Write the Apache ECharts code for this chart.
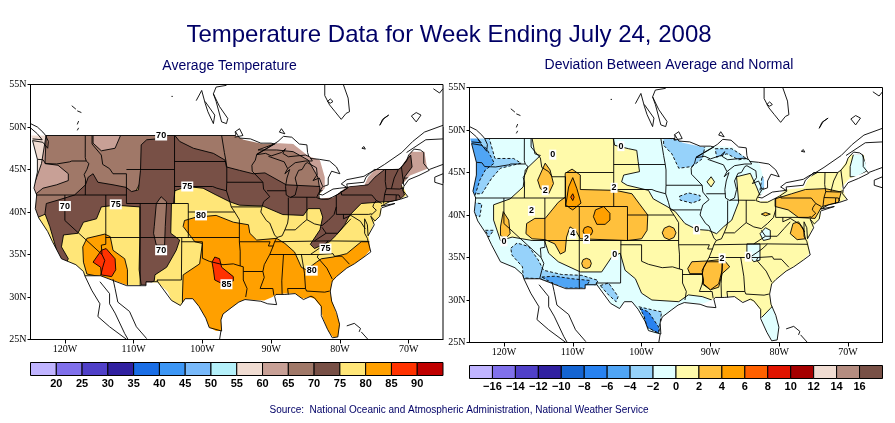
<!DOCTYPE html>
<html lang="en">
<head>
	<meta charset="UTF-8">
	<title>Temperature Data for Week Ending July 24, 2008</title>
	<style>html,body{margin:0;padding:0;background:#fff}</style>
</head>
<body>
	<div id="main" style="width: 895px;height: 423px"></div>

	<script src="https://cdn.jsdelivr.net/npm/echarts@6/dist/echarts.min.js"></script>
	<script type="text/javascript">

	// tick labels
	var lonTicks = [-120, -110, -100, -90, -80, -70];
	var latTicks = [25, 30, 35, 40, 45, 50, 55];

	// colour bars
	var tempLevels = [15, 20, 25, 30, 35, 40, 45, 50, 55, 60, 65, 70, 75, 80, 85, 90, 95];
	var tempTicks = [20, 25, 30, 35, 40, 45, 50, 55, 60, 65, 70, 75, 80, 85, 90];
	var tempColors = ['#C0B4FF', '#8070EB', '#5040C8', '#3020A0', '#1A6EE6', '#3C96F5', '#78B9FA', '#B4F0FA', '#F0DCD2', '#C8A096', '#A07868', '#785046', '#FFE678', '#FFA000', '#FF3200', '#C00000'];
	var devLevels = [-18, -16, -14, -12, -10, -8, -6, -4, -2, 0, 2, 4, 6, 8, 10, 12, 14, 16, 18];
	var devTicks = [-16, -14, -12, -10, -8, -6, -4, -2, 0, 2, 4, 6, 8, 10, 12, 14, 16];
	var devColors = ['#C0B4FF', '#8070EB', '#5040C8', '#3020A0', '#1464D2', '#2882F0', '#50A5F5', '#96D2FA', '#E1FFFF', '#FFFAAA', '#FFC03C', '#FFA000', '#FF6000', '#E11400', '#A50000', '#F0DCD2', '#B48C80', '#785046'];

	// area that carries gridded data, [lon, lat]
	var landMask = [[-124.9,49],[-95.2,49],[-94,48.5],[-91.2,48],[-88.7,48.1],[-86.8,48],[-84.6,46.6],[-82.9,46.1],[-82.2,44.1],[-82.2,42.8],[-83,42.1],[-82.9,41.6],[-81,41.7],[-79,43],[-76.4,43.2],[-75.9,44.1],[-74.9,45],[-71.3,45.1],[-69.6,47.1],[-67.7,47.1],[-67.3,45.1],[-69.8,44.3],[-71,43.2],[-70.5,42.5],[-70.3,41.9],[-71.5,41.4],[-73,41.1],[-74,40.6],[-74,39.8],[-75,38.8],[-75.8,37.3],[-75.6,35.5],[-76.5,34.7],[-77.9,33.9],[-79,33.4],[-80.5,32.4],[-81.2,31.7],[-81.4,30.5],[-81.1,29.4],[-80.5,28],[-80,26.8],[-80.3,25.3],[-81,25.3],[-81.7,26],[-82.5,27.6],[-82.8,28.9],[-83.7,29.8],[-84.5,30],[-85.4,29.8],[-86.5,30.4],[-88,30.4],[-89.3,30.3],[-89.8,30],[-91,29.6],[-93.8,29.7],[-94.7,29.4],[-95.7,28.8],[-97,28],[-97.3,27.3],[-97.2,26],[-98,26],[-99,26.4],[-99.5,27.5],[-100.5,28.9],[-101.4,29.8],[-102.5,29.8],[-103.2,29],[-104.5,29.6],[-105,30.6],[-106.5,31.7],[-108.2,31.7],[-108.2,31.4],[-111,31.4],[-114.8,32.5],[-117.1,32.5],[-117.3,33],[-118.4,33.8],[-120.5,34.5],[-121.8,36.5],[-122.5,37.7],[-123.8,39.3],[-124.3,40.4],[-124.1,42],[-124.5,42.8],[-124,44.7],[-124,46.2],[-124.7,48.4]];

	// coast and border lines
	var usCoast = [[-124.7,48.4],[-123.2,48.2],[-122.5,47.5],[-122.4,48.3],[-122.8,49],[-95.15,49],[-95.15,49.4],[-94.6,48.7],[-93,48.6],[-91.5,48.1],[-90,48.1],[-89.5,48],[-92.1,46.75],[-90.8,46.9],[-90,46.6],[-88.5,47],[-87.9,47.45],[-88.3,46.9],[-87.5,46.5],[-85,46.7],[-84.4,46.5],[-84,46],[-85,46],[-86.5,45.8],[-87.6,45.1],[-88,44.5],[-87.3,45],[-87.7,44],[-87.9,43],[-87.8,42],[-87.2,41.7],[-86.5,42],[-86.2,43],[-86.5,44],[-86,44.9],[-85.5,45],[-85,45.7],[-84.7,45.8],[-83.4,45.2],[-83.3,44.4],[-83.9,43.7],[-83,44],[-82.5,43],[-83.1,42.2],[-83.4,41.7],[-82.7,41.5],[-81.7,41.5],[-80,42.2],[-78.9,42.8],[-79,43.3],[-76.5,43.5],[-76.2,44.1],[-75,45],[-71.5,45],[-71,45.3],[-70.3,46],[-70,46.7],[-69.2,47.4],[-68.3,47.3],[-67.8,47],[-67.8,45.7],[-67,44.9],[-68.5,44.3],[-70,43.8],[-70.7,43],[-70.8,42.5],[-70.1,41.8],[-71.2,41.5],[-72.8,41.2],[-74,40.7],[-72,41],[-73.9,40.5],[-74,40.4],[-74.2,39.5],[-74.9,38.95],[-75.5,39.5],[-75,38.5],[-75.9,37.2],[-76,38.5],[-76.4,39.2],[-76.4,37.5],[-76,36.9],[-75.5,35.3],[-76.5,34.7],[-77.9,33.9],[-79,33.4],[-80.5,32.4],[-81.1,31.9],[-81.4,30.7],[-81.2,29.5],[-80.5,28.2],[-80.05,26.8],[-80.3,25.3],[-81.1,25.2],[-81.8,26.2],[-82.7,27.8],[-82.7,28.9],[-83.7,29.9],[-84.2,30.1],[-85.3,29.7],[-86.5,30.4],[-88,30.3],[-89.3,30.3],[-89.5,30.1],[-89.2,29.1],[-90.5,29.2],[-91.5,29.5],[-93.8,29.7],[-94.7,29.4],[-95.7,28.8],[-97,28],[-97.3,27.3],[-97.2,26],[-99,26.4],[-99.5,27.5],[-100.5,28.9],[-101.4,29.8],[-102.5,29.8],[-103.2,29],[-104.5,29.6],[-106.5,31.8],[-108.2,31.8],[-108.2,31.33],[-111,31.33],[-114.8,32.5],[-117.1,32.5],[-117.3,33],[-118.4,33.8],[-120.5,34.5],[-121.8,36.5],[-122.5,37.7],[-123.8,39.3],[-124.3,40.4],[-124.1,42],[-124.5,42.8],[-124,44.7],[-124,46.2],[-124.7,48.4]];

	var stateLines = [
		[[-124,46.2],[-123.2,46.15],[-122.8,45.7],[-121.2,45.65],[-119.3,45.9],[-119,46],[-116.9,46]],
		[[-117.03,49],[-117.04,46.4],[-116.9,46],[-116.5,45.7],[-116.8,45],[-117.2,44.4],[-117,43.9],[-117.03,42]],
		[[-124.2,42],[-111.05,42]],
		[[-120,42],[-120,39],[-114.6,35],[-114.2,34.3],[-114.5,33.5],[-114.8,32.5]],
		[[-114.05,42],[-114.05,36.2],[-114.7,36.1],[-114.6,35]],
		[[-114.05,37],[-94.62,37]],
		[[-109.05,41],[-109.05,31.33]],
		[[-111.05,44.5],[-111.05,41],[-102.05,41],[-102.05,37]],
		[[-111.05,45],[-104.05,45]],
		[[-104.05,49],[-104.05,41]],
		[[-116.05,49],[-116.05,48],[-114.7,46.7],[-114.5,45.6],[-113.5,45.1],[-113,44.5],[-111.05,44.5]],
		[[-104.05,45.94],[-96.56,45.94]],
		[[-104.05,43],[-98.5,43],[-97.9,42.8],[-96.5,42.5],[-96.1,41.5],[-95.8,40.6],[-95.3,40]],
		[[-102.05,40],[-95.3,40],[-94.62,39.1],[-94.62,36.5]],
		[[-97.2,49],[-96.8,47],[-96.56,45.94],[-96.45,45.3],[-96.45,43.5],[-91.2,43.5]],
		[[-96.45,43.5],[-96.5,42.5]],
		[[-92.1,46.75],[-92.3,46.1],[-92.8,45.5],[-92.75,44.8],[-91.2,43.5],[-91.1,42.7],[-90.2,41.8],[-91.1,41.2],[-91.4,40.4],[-91.5,40],[-90.7,39],[-90.2,38.7],[-89.5,37.3],[-89.15,37],[-89.5,36.5],[-89.7,36],[-90.2,35],[-91,33.8],[-91.2,33],[-91,32.3],[-91.6,31],[-89.75,31],[-89.6,30.2]],
		[[-95.8,40.6],[-91.4,40.6]],
		[[-94.62,36.5],[-90.15,36.5],[-90.4,36],[-89.7,36]],
		[[-94.05,33],[-91.2,33]],
		[[-100,36.5],[-100,34.56],[-99,34.2],[-97,33.8],[-95.5,33.9],[-94.5,33.65],[-94.05,33.55],[-94.05,32],[-93.5,31],[-93.7,30]],
		[[-94.5,33.65],[-94.5,35.4],[-94.62,36.5]],
		[[-103,37],[-103.05,32],[-106.6,32],[-106.5,31.8]],
		[[-103.05,36.5],[-100,36.5]],
		[[-90.4,46.55],[-88.1,45.9],[-87.6,45.1]],
		[[-90.6,42.5],[-87.8,42.5]],
		[[-87.5,41.7],[-87.5,39.3],[-87.6,38.7],[-88,37.9]],
		[[-89.15,37],[-88.4,37.2],[-88,37.9],[-86.5,37.9],[-85.4,38.7],[-84.8,39.1],[-83.7,38.6],[-82.6,38.4],[-81.7,39],[-80.85,39.7],[-80.52,40.6]],
		[[-84.8,39.1],[-84.8,41.75]],
		[[-87.2,41.75],[-83.5,41.73]],
		[[-80.52,42],[-80.52,39.72],[-75.8,39.72],[-75.4,39.8]],
		[[-79.48,39.72],[-79.48,39.2],[-78.4,39.6],[-77.8,39.3],[-77,38.9],[-76.3,38]],
		[[-79.76,42.25],[-79.76,42],[-75.35,42],[-74.7,41.36],[-75.1,40.9],[-75.2,40.6],[-74.7,40.2],[-75.5,39.6]],
		[[-74.7,41.36],[-73.9,41]],
		[[-89.5,36.5],[-81.7,36.6],[-75.9,36.55]],
		[[-83.7,36.6],[-82,37.5],[-82.6,38.2]],
		[[-82,37.5],[-80.3,37.5],[-79.3,38.4],[-78.4,39.2]],
		[[-90.2,35],[-84.3,35],[-83.1,35]],
		[[-84.3,35],[-82.5,36],[-81.7,36.6]],
		[[-88.2,35],[-88.45,31.9],[-88.4,30.3]],
		[[-85.6,35],[-85.15,32.8],[-85,31],[-84.85,30.7],[-82.2,30.57],[-81.5,30.7]],
		[[-87.6,31],[-85,31]],
		[[-87.6,31],[-87.5,30.3]],
		[[-83.1,35],[-83.3,34.7],[-81.9,33.4],[-81.1,32.1]],
		[[-83.1,35],[-81,35.1],[-80.8,34.8],[-79.7,34.8],[-78.6,33.85]],
		[[-73.35,45],[-73.4,43.6],[-73.25,42.75],[-71.3,42.7],[-70.8,42.85]],
		[[-73.25,42.75],[-73.5,42.05],[-71.8,42.02],[-71.4,42],[-71.2,41.6]],
		[[-73.5,42.05],[-73.65,41]],
		[[-71.8,42],[-71.85,41.3]],
		[[-71.5,45],[-72.1,44],[-72.5,42.75]],
		[[-71.05,45.3],[-70.7,43.1]]
	];

	var canadaLines = [
		[[-125,49.9],[-124,49.2],[-123.3,48.5],[-124.7,48.6]],
		[[-122.8,49],[-123.2,49.4],[-124,50],[-125,50.4]],
		[[-119,52.5],[-118.4,52.1]],[[-118.2,51.9],[-117.6,51.7]],
		[[-118,50.7],[-118.2,50.3]],[[-118,49.9],[-118.2,49.6]],
		[[-104.5,53.6],[-104.3,53.6]],
		[[-82.2,55],[-82.2,53.7],[-81.5,52.6],[-80.7,51.8],[-79.8,50.9],[-79.1,51.6],[-78.6,51.8],[-78.8,53.4],[-79.5,55]],
		[[-81.8,53],[-81.4,53.3],[-81,53],[-81.4,52.8],[-81.8,53]],
		[[-100.9,53.1],[-100.1,54.3],[-99.6,52.8],[-99.2,51.8],[-98.4,50.4],[-98.2,51.4],[-99.6,53]],
		[[-98.4,53.9],[-97.5,52.4],[-96.3,51],[-96.5,50.4],[-97.2,50.6],[-98,53],[-98.4,53.9],[-98,54.7],[-96.5,54.9]],
		[[-95.3,49.4],[-94.6,49.8],[-94.1,49],[-95.3,48.8]],
		[[-88.5,49.8],[-88,49.2],[-88.8,49.4],[-88.5,49.8]],
		[[-92.1,46.8],[-90,47.8],[-89,48.3],[-88.2,48.9],[-87,48.8],[-85.9,48],[-84.8,47.9],[-84.7,47],[-84.5,46.5]],
		[[-84.3,46.3],[-83,46.2],[-81.5,46],[-80.5,45.3],[-80,44.5],[-81.2,44.8],[-81.7,44],[-81.7,43.2],[-82.4,43]],
		[[-83.1,42.1],[-82.5,42],[-81,42.7],[-80,42.8],[-79,42.9]],
		[[-79,42.9],[-79.8,43.3],[-79,43.8],[-76.5,44.2],[-75.7,44.6],[-74.7,45],[-73.5,45.6],[-71,47],[-69.4,48.3],[-67.7,49.4],[-65,50.2]],
		[[-70.3,47],[-67.5,48.5],[-65,48.6]],
		[[-67,45],[-66,45.3],[-65,45.6]],
		[[-65,44.5],[-66.2,44.1],[-66.2,43.5],[-65,43.2]],
		[[-76.8,47.5],[-76.5,47.7],[-76.3,47.4],[-76.8,47.5]],
		[[-74.2,50.2],[-73.6,51],[-72.9,51.4],[-73.8,50.9],[-74.2,50.2]],
		[[-69.6,51.3],[-68.9,51.7],[-68.2,51.4],[-68.9,50.6],[-69.6,51.3]],
		[[-66.4,54.5],[-65.5,54],[-65,54.5]],
		[[-117.1,32.5],[-116.1,30.8],[-114.9,29.2],[-115.2,27.7],[-113.5,26.5],[-111,25]],
		[[-114.9,31.8],[-113.5,30.4],[-113.5,29.2],[-112.7,28.1],[-111.3,25.7],[-110.8,25]],
		[[-113,32.1],[-112.7,31],[-112.3,29.4],[-110.6,28.3],[-109.6,26.5],[-108.1,25.1]],
		[[-97.3,26],[-97.5,25]],
		[[-79,26.6],[-77.9,26.9],[-77,26.3],[-77.2,25.9]],
		[[-76.9,25.9],[-75.9,25]]
	];

	// average temperature contours, [lon, lat]
	var tempNorth = [[-125,50],[-65,50],[-65,43.4],[-71.3,43.4],[-73.7,42.2],[-78.6,42.2],[-81,41.4],[-82.9,42.4],[-90.7,42.6],[-102.3,44.9],[-108.1,44.9],[-110.1,41.8],[-117.3,40.2],[-122.7,39.8],[-125,39]];
	var tempWest6065 = [[-125,49.2],[-122.7,49.2],[-122.9,45.7],[-121,45.5],[-119.5,44.5],[-119.5,43.7],[-121.2,43.2],[-123.2,42.8],[-124.4,42],[-125,42]];
	var tempNorthwest5560 = [[-125,49.2],[-122.7,49.2],[-123.4,45.7],[-124.4,43.4],[-125,43.4]];
	var tempMontana6065 = [[-115.9,49.2],[-111.8,49.2],[-112.7,47.5],[-114.7,47.2],[-115.9,48.1]];
	var tempLakes6065 = [[-91.9,47.3],[-89.2,48.1],[-89,48.5],[-84,47.5],[-81,45],[-81,42.5],[-82.9,42.5],[-83.2,44.1],[-84.6,46.1],[-86.8,47.1],[-89.2,47.3]];
	var tempNortheast6065 = [[-82,42.3],[-75,46],[-70,48],[-66,48],[-66,44],[-71,44],[-78,42.5]];
	var temp7075 = [[-108.9,47.9],[-108.1,48.5],[-106.7,48.6],[-105.95,49],[-104,49],[-103.3,48.3],[-101.3,47.5],[-98.4,46.9],[-96.7,46.1],[-96.5,45.3],[-94.6,44.9],[-92.6,44.5],[-90.9,44.6],[-87.8,43.2],[-82.9,43],[-83,41.6],[-80.5,42],[-78.6,43],[-75.9,43.2],[-74.9,44.1],[-73.5,45],[-71.3,45.1],[-69.7,46.7],[-69.5,45.3],[-70.6,44.1],[-71,43],[-70.6,42],[-71.5,41.3],[-73.7,41.2],[-76.9,41],[-78.6,39.6],[-79.3,38.5],[-80.5,37.3],[-81.5,36.5],[-83.7,35.7],[-84.3,36.2],[-82.9,37.9],[-82.5,39.4],[-82.9,40.4],[-84.6,40.4],[-85.3,39.6],[-88.3,39.7],[-91.2,40.7],[-94.6,40.8],[-96,41.2],[-98,42],[-99.9,42.8],[-102.3,43],[-104,42.5],[-104.2,41],[-104.5,41],[-104.6,37.5],[-103.3,36.7],[-103.8,35.5],[-105.2,33.5],[-106.9,32.6],[-107,31.9],[-108.1,31.4],[-108.9,31.4],[-109.2,33.2],[-109.1,37.1],[-109.1,40.6],[-112.7,40.8],[-114.7,40.6],[-115.4,39.2],[-117.3,38.8],[-118.1,37.5],[-120.2,37.3],[-120.5,35.9],[-119.5,34.5],[-120,33.7],[-121.2,35.5],[-122.2,38.3],[-122.9,39.8],[-122.7,41],[-121,41.4],[-118.6,42],[-117,43.2],[-116.6,44.1],[-115.9,44.5],[-115.2,43.5],[-113,43.2],[-111.1,42.9],[-110.3,42.4],[-109.3,42.6],[-109,44.9]];
	var tempTongue = [[-107,38.3],[-106.7,41],[-106,41.8],[-105.2,41.2],[-105.4,38.3],[-105.5,36.1],[-106.7,36.1],[-107.1,37.5]];
	var tempEast8085 = [[-102.8,38.3],[-102.6,39],[-100.9,39.4],[-98,39.6],[-95.5,38.8],[-93.3,38.5],[-93.1,37.5],[-92.1,36.7],[-89.2,36.9],[-88,36.3],[-86.6,35.3],[-85.6,33.5],[-84.9,33.2],[-83.4,34.1],[-82.7,34.5],[-81,34.7],[-79,35.1],[-76.9,36.5],[-75,36.5],[-74,34],[-78,30],[-79,25],[-85,25],[-92,28],[-96,25],[-100,25],[-102.9,29.2],[-102.9,30],[-102.8,32.6],[-100.4,33.9],[-100,36.3],[-101.1,36.5]];
	var tempWest8085 = [[-117.4,35.9],[-116.8,36.9],[-114.2,37.4],[-113.4,37.1],[-113,35.5],[-111.3,34.5],[-110.9,33.2],[-110.9,31.3],[-112.7,31.6],[-114.9,32.4],[-116.8,32.7],[-117.3,34.1]];
	var tempWest8590 = [[-115.9,34.1],[-114.7,35.5],[-114,35.7],[-112.7,34.5],[-112.6,33.2],[-113.2,32.4],[-114.7,32.6],[-114.8,33.5]];
	var tempTexas8590 = [[-98.6,34.1],[-98.2,34.7],[-97.5,34.5],[-97.2,33.5],[-95.5,32.4],[-95.5,31.9],[-97.2,31.6],[-98.2,32],[-98.4,33.2]];

	// temperature contour labels: lon, lat, text
	var tempLabels = [[-106,49,'70'],[-120,40.7,'70'],[-112.6,40.9,'75'],[-106,35.5,'70'],[-102.2,43,'75'],[-100.2,39.6,'80'],[-82.1,35.7,'75'],[-84.1,33.1,'80'],[-96.5,31.5,'85']];

	// deviation contours, [lon, lat]
	var devNorthCentral = [[-104.3,49.6],[-103.9,48.2],[-101.9,47.8],[-100.7,47.6],[-100.5,46.3],[-100.3,45.1],[-102.6,44.7],[-102.9,43.9],[-102.1,43.5],[-99,42.9],[-98.3,41.9],[-96.3,41],[-95.1,40.4],[-93.7,39],[-92,38.3],[-90.3,38.2],[-89.1,37.8],[-88.1,38.6],[-86.9,39.4],[-85.9,41.5],[-86.2,44.5],[-84.2,44.9],[-83.3,43.3],[-82.8,42.3],[-80.8,43.1],[-79.6,43.7],[-75.8,44.4],[-73.8,45.3],[-73.8,49.6]];
	var devWestSouth = [[-115.9,49.6],[-115.9,49],[-115.5,47.2],[-114.7,47],[-116.9,45.3],[-117.2,43.3],[-119.1,41.9],[-121.5,41.2],[-121.5,39.4],[-120.5,37],[-118.8,37.4],[-115.9,37],[-114.1,37],[-113.5,35.5],[-112.1,34.5],[-108.9,33.3],[-105.8,33.3],[-104.3,35.1],[-103.1,35.5],[-102.4,33.5],[-100.9,32.5],[-100,30.8],[-98.5,30],[-94.6,29.8],[-93.2,30.6],[-91.2,30.4],[-89.8,30],[-89.3,28.8],[-96,25.5],[-105,25.5],[-118,30],[-125,38],[-125,49.6]];
	var devFlorida = [[-83.5,27.5],[-82.5,28],[-81.3,29],[-80.6,29.6],[-79,29.6],[-79,25],[-83.5,25]];
	var devMaine = [[-69.2,47.2],[-68,47.2],[-67,45.3],[-68.7,44.5],[-69.7,44.5],[-69.7,45.7]];
	var devWestVirginia = [[-82.8,37.8],[-82,38.5],[-81.3,38.2],[-81.3,37.2],[-82.3,37]];
	var devTennessee = [[-84.7,36.6],[-82.8,36.6],[-82.8,34.7],[-83.7,34.5],[-84.7,35.5]];
	var devWisconsin = [[-90.5,43.9],[-89.9,44.5],[-89.4,43.9],[-89.9,43.3]];
	var devNorthwest4 = [[-122.2,49.2],[-121.3,46.65],[-118.6,46.65],[-117.5,46.1],[-120.5,45.5],[-121.8,44.3],[-123.2,42.5],[-125,42.5],[-125,49.2]];
	var devNorthwest6 = [[-125,49.2],[-124,49.2],[-123.2,48.2],[-122.5,47.8],[-121.4,46.1],[-122.7,45.3],[-123.5,44.1],[-124.2,42.3],[-125,42.3]];
	var devOregonCoast = [[-124.5,41.5],[-123.2,41.3],[-123.5,39.8],[-124.5,40]];
	var devBay = [[-122.7,38.2],[-121.5,38.2],[-122.2,37.4]];
	var devSouthwest4 = [[-119,36.1],[-118.1,36.7],[-116.4,36.3],[-115,34.7],[-114.25,33.5],[-111.6,33],[-108.7,32.9],[-106.3,32.3],[-107,31.4],[-111.3,31.4],[-114.7,32.5],[-117.2,32.6],[-117.3,33.9],[-118.85,35.3]];
	var devSouthwest6 = [[-114.5,32.7],[-112.6,32.8],[-110.1,32.5],[-107.5,32.3],[-108.2,31.4],[-111.3,31.4],[-113,32]];
	var devBigBend = [[-106,31.7],[-104.8,32],[-103.4,30.4],[-103.7,29.8],[-104.8,30.6]];
	var devTexas4 = [[-100.4,29.2],[-97.1,28.6],[-97.5,26.1],[-99.2,26.8],[-99.7,28.4]];
	var devTexas6 = [[-100.2,29],[-99,28.6],[-97.5,26.8],[-97.5,26.1],[-99.2,26.8],[-99.6,28]];
	var devMinnesota = [[-96.8,49.2],[-90.8,48],[-91.2,46.6],[-92.7,45.7],[-94.6,45.5],[-95.6,47.2],[-96.8,48.2]];
	var devSuperior = [[-89.3,47.8],[-86.9,47.8],[-84.7,46.65],[-85.9,46.5],[-87.6,47.2],[-89.1,46.8]];
	var devIowa = [[-94.5,42.2],[-93.2,42.6],[-91.5,42.3],[-91.5,41.75],[-92.7,41.4],[-94.4,41.75]];
	var devHuron = [[-82.5,44.5],[-81.8,44.3],[-82,43.3],[-82.8,42.9]];
	var devCentral2 = [[-116.8,37.8],[-116.7,39],[-115.5,39.6],[-114,39.6],[-113,40.6],[-112.1,41.5],[-111.1,42.1],[-111.1,44.9],[-110.1,45.4],[-108.9,44.7],[-108.9,43],[-103.8,42.9],[-101.4,42.5],[-100.4,41.4],[-99.1,40],[-99.2,38.2],[-100,37.2],[-102.1,37],[-108.9,37.2],[-109.6,38.2],[-110.4,38.6],[-110.9,37.4],[-111.1,35.7],[-111.8,35.4],[-112.6,36.6],[-114,37.1],[-115.9,37.2]];
	var devWyoming4 = [[-111,41.2],[-110.6,43.3],[-110,44.4],[-109.4,43.1],[-108.8,41.4],[-109.4,41],[-110,40.6],[-110.4,40.8]];
	var devWyoming6 = [[-110.3,42.1],[-110,42.5],[-109.8,42.1],[-110,41.7]];
	var devColorado4 = [[-107,39.8],[-106.7,40.6],[-105.5,41],[-104.6,40.2],[-104.6,39.4],[-105.3,38.9],[-106.5,38.9]];
	var devUtah4 = [[-108.5,38.1],[-108.3,38.5],[-107.8,38.65],[-107.3,38.5],[-107.1,38.1],[-107.3,37.7],[-107.8,37.55],[-108.3,37.7]];
	var devNewMexico2 = [[-108.7,34.3],[-108.5,34.75],[-108,34.9],[-107.5,34.75],[-107.3,34.3],[-107.5,33.85],[-108,33.7],[-108.5,33.85]];
	var devKansas2 = [[-97,37.9],[-96.7,38.45],[-96,38.7],[-95.3,38.45],[-95,37.9],[-95.3,37.35],[-96,37.1],[-96.7,37.35]];
	var devNevada2 = [[-120.5,38.6],[-120.1,40.4],[-119.3,39.4],[-119.1,37.8],[-119.8,37.2],[-120.5,37.6]];
	var devIdaho2 = [[-115.1,44.1],[-114,46.1],[-113.3,45.3],[-112.8,43.7],[-113.5,42.5],[-114.7,43.1]];
	var devNewYork2 = [[-80.6,41.9],[-78.2,42.5],[-76.2,43],[-73.3,43.1],[-71,42.7],[-71.4,41.5],[-73.8,41],[-74.8,39.6],[-77.2,39.7],[-78.7,40.6],[-80.6,41]];
	var devVirginia2 = [[-78.4,37.8],[-78,39],[-77.2,39.2],[-76.5,38.4],[-76.2,37.2],[-77.4,37.1]];
	var devSouth2 = [[-93.3,33.7],[-92.7,34.5],[-90.3,34.6],[-88.1,34.8],[-87.2,33.9],[-88.3,33.1],[-88.8,31.5],[-90,31.2],[-91.2,31.9],[-91,33.1],[-93,33.1]];
	var devSouthInner = [[-91.2,33.5],[-90.5,34.5],[-88.3,34.5],[-88.3,33.5],[-88.8,31.9],[-90,31.2],[-91,31.9]];
	var devOhio2 = [[-82.6,40.1],[-82,40.3],[-81.3,40.1],[-82,39.9]];

	// deviation contour labels: lon, lat, text
	var devLabels = [[-112.9,47.1,'0'],[-103,48.1,'0'],[-114,42.9,'2'],[-104,43.2,'2'],[-116,40.5,'2'],[-110,37.8,'4'],[-108,37.2,'2'],[-120,36.9,'0'],[-103.9,35.3,'0'],[-92,38.3,'0'],[-88.3,34.9,'2'],[-84.5,35.1,'0']];

	var black = '#000';
	var dashed = [3, 2];

	// one layer per contour, painted in order
	function fill(pts, color, dash) {
		return { kind: 'polygon', pts: pts, color: color, line: black, dash: dash };
	}
	function coverLayer(xMin, xMax, yMin, yMax) {
		// white plate with a seam: hides every contour outside the data area
		var pts = [[xMin, yMin], [xMax, yMin], [xMax, yMax], [xMin, yMax], landMask[0]];
		pts = pts.concat(landMask.slice(1), [landMask[0], [xMin, yMax]]);
		return { kind: 'polygon', pts: pts, color: '#fff', line: null };
	}
	function lineLayers() {
		var list = stateLines.concat(canadaLines, [usCoast]);
		return list.map(function (pts) {
			return { kind: 'polyline', pts: pts, line: black };
		});
	}

	var tempLayers = [
		{ kind: 'polygon', pts: [[-125, 25], [-65, 25], [-65, 55], [-125, 55]], color: tempColors[12], line: null },
		fill(tempNorth, tempColors[10]),
		fill(tempWest6065, tempColors[9]),
		fill(tempNorthwest5560, tempColors[8]),
		fill(tempMontana6065, tempColors[9]),
		fill(tempLakes6065, tempColors[9]),
		fill(tempNortheast6065, tempColors[9]),
		fill(temp7075, tempColors[11]),
		fill(tempTongue, tempColors[10]),
		fill(tempEast8085, tempColors[13]),
		fill(tempWest8085, tempColors[13]),
		fill(tempWest8590, tempColors[14]),
		fill(tempTexas8590, tempColors[14]),
		coverLayer(-125, -65, 25, 55)
	].concat(lineLayers());

	var devLayers = [
		{ kind: 'polygon', pts: [[-125, 25], [-65, 25], [-65, 55], [-125, 55]], color: devColors[9], line: null },
		fill(devNorthCentral, devColors[8]),
		fill(devWestSouth, devColors[8]),
		fill(devFlorida, devColors[8]),
		fill(devMaine, devColors[8]),
		fill(devWestVirginia, devColors[8]),
		fill(devTennessee, devColors[8]),
		fill(devWisconsin, devColors[9]),
		fill(devNorthwest4, devColors[7], dashed),
		fill(devNorthwest6, devColors[6], dashed),
		fill(devOregonCoast, devColors[7], dashed),
		fill(devBay, devColors[7], dashed),
		fill(devSouthwest4, devColors[7], dashed),
		fill(devSouthwest6, devColors[6], dashed),
		fill(devBigBend, devColors[7], dashed),
		fill(devTexas4, devColors[7], dashed),
		fill(devTexas6, devColors[5], dashed),
		fill(devMinnesota, devColors[7], dashed),
		fill(devSuperior, devColors[7], dashed),
		fill(devIowa, devColors[7], dashed),
		fill(devHuron, devColors[7], dashed),
		fill(devCentral2, devColors[10]),
		fill(devWyoming4, devColors[11]),
		fill(devWyoming6, devColors[12]),
		fill(devColorado4, devColors[11]),
		fill(devUtah4, devColors[11]),
		fill(devNewMexico2, devColors[10]),
		fill(devKansas2, devColors[10]),
		fill(devNevada2, devColors[10]),
		fill(devIdaho2, devColors[10]),
		fill(devNewYork2, devColors[10]),
		fill(devVirginia2, devColors[10]),
		fill(devSouth2, devColors[10]),
		fill(devSouthInner, devColors[10]),
		fill(devOhio2, devColors[10]),
		coverLayer(-125, -65, 25, 55)
	].concat(lineLayers());

	function mapSeries(idx, layers) {
		return {
			type: 'custom',
			coordinateSystem: 'cartesian2d',
			xAxisIndex: idx,
			yAxisIndex: idx,
			clip: true,
			silent: true,
			progressive: 0,
			data: layers.map(function (l, i) { return [i]; }),
			renderItem: function (params, api) {
				var l = layers[params.dataIndex];
				var pts = l.pts.map(function (p) { return api.coord(p); });
				return {
					type: l.kind,
					shape: { points: pts },
					style: {
						fill: l.kind === 'polygon' ? l.color : 'none',
						stroke: l.line || 'none',
						lineWidth: 0.9,
						lineDash: l.dash || null
					}
				};
			}
		};
	}

	function labelSeries(idx, labels) {
		return {
			type: 'scatter',
			xAxisIndex: idx,
			yAxisIndex: idx,
			symbolSize: 0,
			z: 5,
			silent: true,
			itemStyle: { opacity: 1 },
			data: labels,
			label: {
				show: true,
				position: 'inside',
				formatter: function (p) { return p.value[2]; },
				fontFamily: 'Liberation Sans',
				fontWeight: 'bold',
				fontSize: 9,
				color: '#000',
				backgroundColor: '#fff',
				padding: [1, 1, 0, 1]
			}
		};
	}

	function barSeries(idx, levels, colors) {
		return {
			type: 'custom',
			coordinateSystem: 'cartesian2d',
			xAxisIndex: idx,
			yAxisIndex: idx,
			silent: true,
			data: colors.map(function (c, i) { return [i]; }),
			renderItem: function (params, api) {
				var i = params.dataIndex;
				var a = api.coord([levels[i], 0]);
				var b = api.coord([levels[i + 1], 1]);
				return {
					type: 'rect',
					shape: { x: a[0], y: b[1], width: b[0] - a[0], height: a[1] - b[1] },
					style: { fill: colors[i], stroke: black, lineWidth: 1 }
				};
			}
		};
	}

	var mapFont = 'Liberation Sans Narrow';

	function lonAxis(gridIndex) {
		return {
			type: 'value', gridIndex: gridIndex, min: -125, max: -65, z: 10,
			splitLine: { show: false },
			axisLine: { onZero: false, lineStyle: { color: black, width: 1 } },
			axisTick: { length: 4, customValues: lonTicks, lineStyle: { color: black } },
			axisLabel: {
				customValues: lonTicks, margin: 5, color: black, fontFamily: mapFont, fontSize: 10,
				formatter: function (v) { return Math.abs(v) + 'W'; }
			}
		};
	}
	function latAxis(gridIndex) {
		return {
			type: 'value', gridIndex: gridIndex, min: 25, max: 55, z: 10,
			splitLine: { show: false },
			axisLine: { onZero: false, lineStyle: { color: black, width: 1 } },
			axisTick: { length: 3, customValues: latTicks, lineStyle: { color: black } },
			axisLabel: {
				customValues: latTicks, margin: 4, color: black, fontFamily: mapFont, fontSize: 10,
				formatter: function (v) { return v + 'N'; }
			}
		};
	}
	function barX(gridIndex, levels, ticks) {
		return {
			type: 'value', gridIndex: gridIndex, min: levels[0], max: levels[levels.length - 1],
			splitLine: { show: false }, axisLine: { show: false }, axisTick: { show: false },
			axisLabel: {
				customValues: ticks, margin: 3, color: black, fontFamily: 'Liberation Sans', fontWeight: 'bold', fontSize: 11,
				formatter: function (v) { return String(v).replace('-', '\u2212'); }
			}
		};
	}
	function barY(gridIndex) {
		return { type: 'value', gridIndex: gridIndex, min: 0, max: 1, show: false, splitLine: { show: false } };
	}

	var myChart = echarts.init(document.getElementById('main'), null, { renderer: 'canvas' });

	var navy = '#000066';
	var frame = { show: true, z: 20, borderColor: black, borderWidth: 1, backgroundColor: 'transparent' };
	var option = {
		animation: false,
		backgroundColor: '#fff',
		title: [
			{ text: 'Temperature Data for Week Ending July 24, 2008', left: 444, top: 18, textAlign: 'center',
				textStyle: { color: navy, fontFamily: 'Liberation Sans', fontSize: 24, fontWeight: 'normal' } },
			{ text: 'Average Temperature', left: 224.5, top: 54, textAlign: 'center',
				textStyle: { color: navy, fontFamily: 'Liberation Sans', fontSize: 14, fontWeight: 'normal' } },
			{ text: 'Deviation Between Average and Normal', left: 664, top: 53, textAlign: 'center',
				textStyle: { color: navy, fontFamily: 'Liberation Sans', fontSize: 14, fontWeight: 'normal' } },
			{ text: 'Source:  National Oceanic and Atmospheric Administration, National Weather Service', left: 454, top: 400, textAlign: 'center',
				textStyle: { color: navy, fontFamily: 'Liberation Sans', fontSize: 10, fontWeight: 'normal' } }
		],
		grid: [
			Object.assign({ left: 30.5, top: 84.5, width: 412.5, height: 255 }, frame),
			Object.assign({ left: 469.5, top: 87.5, width: 413, height: 255 }, frame),
			{ left: 30.5, top: 362.5, width: 412.5, height: 13 },
			{ left: 469.5, top: 365.5, width: 413, height: 13 }
		],
		xAxis: [lonAxis(0), lonAxis(1), barX(2, tempLevels, tempTicks), barX(3, devLevels, devTicks)],
		yAxis: [latAxis(0), latAxis(1), barY(2), barY(3)],
		series: [
			mapSeries(0, tempLayers),
			mapSeries(1, devLayers),
			labelSeries(0, tempLabels),
			labelSeries(1, devLabels),
			barSeries(2, tempLevels, tempColors),
			barSeries(3, devLevels, devColors)
		]
	};
	myChart.setOption(option);
	</script>

</body>
</html>
